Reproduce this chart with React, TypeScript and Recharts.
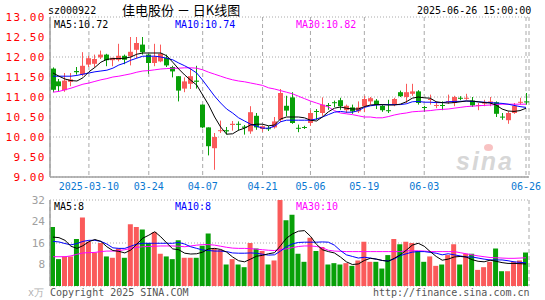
import { ComposedChart, Bar, Line, XAxis, YAxis, CartesianGrid, Cell } from 'recharts';

const dates = [
  '2025-02-28',
  '2025-03-03', '2025-03-04', '2025-03-05', '2025-03-06', '2025-03-07',
  '2025-03-10', '2025-03-11', '2025-03-12', '2025-03-13', '2025-03-14',
  '2025-03-17', '2025-03-18', '2025-03-19', '2025-03-20', '2025-03-21',
  '2025-03-24', '2025-03-25', '2025-03-26', '2025-03-27', '2025-03-28',
  '2025-03-31', '2025-04-01', '2025-04-02', '2025-04-03',
  '2025-04-07', '2025-04-08', '2025-04-09', '2025-04-10', '2025-04-11',
  '2025-04-14', '2025-04-15', '2025-04-16', '2025-04-17', '2025-04-18',
  '2025-04-21', '2025-04-22', '2025-04-23', '2025-04-24', '2025-04-25',
  '2025-04-28', '2025-04-29', '2025-04-30',
  '2025-05-06', '2025-05-07', '2025-05-08', '2025-05-09',
  '2025-05-12', '2025-05-13', '2025-05-14', '2025-05-15', '2025-05-16',
  '2025-05-19', '2025-05-20', '2025-05-21', '2025-05-22', '2025-05-23',
  '2025-05-26', '2025-05-27', '2025-05-28', '2025-05-29', '2025-05-30',
  '2025-06-03', '2025-06-04', '2025-06-05', '2025-06-06',
  '2025-06-09', '2025-06-10', '2025-06-11', '2025-06-12', '2025-06-13',
  '2025-06-16', '2025-06-17', '2025-06-18', '2025-06-19', '2025-06-20',
  '2025-06-23', '2025-06-24', '2025-06-25', '2025-06-26',
];

const tickDates = ['2025-03-10', '2025-03-24', '2025-04-07', '2025-04-21', '2025-05-06', '2025-05-19', '2025-06-03', '2025-06-26'];
const priceTicks = [9, 9.5, 10, 10.5, 11, 11.5, 12, 12.5, 13];
const volTicks = [8, 16, 24, 32];

const opens = [
  11.71, 11.39, 11.17, 11.38, 11.65, 11.56, 11.81, 11.83, 11.99, 12.06,
  11.92, 11.93, 12.03, 12.02, 12.18, 12.31, 12.06, 11.85, 11.89, 11.98,
  11.75, 11.52, 11.21, 11.33, 11.41, 10.81, 10.24, 9.72, 10.15, 10.17,
  10.3, 10.33, 10.26, 10.14, 10.53, 10.2, 10.22, 10.24, 10.43, 10.78,
  10.99, 10.23, 10.25, 10.35, 10.65, 10.6, 10.8, 10.87, 10.92, 10.67,
  10.74, 10.64, 10.77, 10.89, 10.91, 10.78, 10.67, 10.81, 11.12, 11.0,
  11.08, 11.14, 10.75, 10.93, 10.78, 10.8, 10.88, 10.85, 10.98, 10.96,
  10.91, 10.78, 10.84, 10.85, 10.87, 10.51, 10.42, 10.6, 10.86, 10.89,
];
const highs = [
  11.74, 11.45, 11.6, 11.6, 11.75, 12.12, 12.03, 12.06, 12.16, 12.08,
  11.98, 12.33, 12.06, 12.5, 12.5, 12.5, 12.08, 12.33, 12.31, 12.06,
  11.78, 11.52, 11.49, 11.72, 11.78, 10.81, 10.24, 10.1, 10.41, 10.25,
  10.4, 10.39, 10.3, 10.77, 10.6, 10.28, 10.28, 10.5, 11.2, 11.03,
  11.12, 10.31, 10.28, 10.67, 10.7, 10.99, 10.85, 10.91, 10.98, 10.81,
  10.81, 10.89, 11.03, 11.0, 10.95, 10.81, 10.93, 10.98, 11.16, 11.33,
  11.33, 11.17, 10.78, 11.06, 10.89, 10.89, 11.06, 11.03, 11.02, 11.08,
  11.0, 10.85, 10.93, 11.0, 10.89, 10.6, 10.64, 10.85, 10.98, 11.1,
];
const lows = [
  11.12, 11.13, 11.13, 11.27, 11.56, 11.52, 11.75, 11.75, 11.95, 11.77,
  11.77, 11.89, 11.82, 11.79, 11.97, 12.06, 11.58, 11.77, 11.87, 11.75,
  11.49, 10.89, 11.12, 11.2, 11.21, 10.22, 9.54, 9.18, 10.1, 10.06,
  10.16, 10.16, 10.06, 10.08, 10.18, 10.13, 10.15, 10.21, 10.37, 10.52,
  10.33, 10.12, 10.2, 10.28, 10.43, 10.53, 10.68, 10.75, 10.68, 10.6,
  10.58, 10.6, 10.62, 10.81, 10.7, 10.63, 10.6, 10.77, 11.0, 10.85,
  11.03, 10.81, 10.63, 10.81, 10.72, 10.67, 10.83, 10.77, 10.92, 10.93,
  10.75, 10.67, 10.77, 10.77, 10.5, 10.43, 10.33, 10.58, 10.81, 10.81,
];
const closes = [
  11.18, 11.27, 11.41, 11.44, 11.62, 11.78, 11.97, 11.95, 12.06, 11.92,
  11.98, 12.03, 11.93, 12.13, 12.35, 12.12, 11.85, 12.0, 12.08, 11.79,
  11.64, 11.16, 11.39, 11.52, 11.38, 10.24, 9.77, 10.0, 10.17, 10.14,
  10.33, 10.31, 10.23, 10.62, 10.24, 10.27, 10.21, 10.39, 11.1, 10.66,
  10.35, 10.22, 10.24, 10.6, 10.63, 10.81, 10.78, 10.85, 10.77, 10.78,
  10.64, 10.74, 10.95, 10.97, 10.81, 10.67, 10.66, 10.95, 11.02, 11.12,
  11.14, 10.85, 10.74, 10.95, 10.8, 10.78, 10.9, 11.0, 10.97, 10.98,
  10.79, 10.8, 10.86, 10.89, 10.58, 10.5, 10.6, 10.78, 10.88, 10.87,
];

// moving averages (history before the window is not shown)
const ma5 = [
  11.6, 11.52, 11.45, 11.41, 11.4, 11.48, 11.63, 11.74, 11.87, 11.94,
  11.96, 11.96, 11.97, 12.0, 12.07, 12.1, 12.1, 12.1, 12.1, 12.03,
  11.87, 11.7, 11.55, 11.42, 11.3, 11.05, 10.8, 10.5, 10.25, 10.07,
  10.08, 10.17, 10.22, 10.3, 10.32, 10.32, 10.28, 10.3, 10.45, 10.5,
  10.5, 10.5, 10.48, 10.42, 10.4, 10.5, 10.63, 10.72, 10.75, 10.72,
  10.7, 10.7, 10.76, 10.8, 10.81, 10.81, 10.8, 10.8, 10.82, 10.88,
  10.97, 11.0, 10.98, 10.97, 10.88, 10.86, 10.85, 10.86, 10.88, 10.9,
  10.9, 10.88, 10.86, 10.85, 10.8, 10.7, 10.65, 10.64, 10.66, 10.72,
];
const ma10 = [
  11.52, 11.52, 11.52, 11.52, 11.54, 11.57, 11.6, 11.63, 11.65, 11.67,
  11.72, 11.8, 11.85, 11.92, 11.97, 12.02, 12.02, 12.02, 12.0, 11.97,
  11.93, 11.85, 11.78, 11.7, 11.6, 11.42, 11.22, 11.02, 10.85, 10.7,
  10.6, 10.48, 10.4, 10.32, 10.27, 10.22, 10.22, 10.27, 10.38, 10.42,
  10.42, 10.42, 10.42, 10.42, 10.45, 10.5, 10.56, 10.62, 10.64, 10.62,
  10.62, 10.66, 10.74, 10.78, 10.8, 10.81, 10.81, 10.81, 10.81, 10.83,
  10.88, 10.89, 10.87, 10.87, 10.86, 10.86, 10.88, 10.89, 10.89, 10.9,
  10.89, 10.88, 10.87, 10.86, 10.85, 10.84, 10.82, 10.79, 10.76, 10.74,
];
const ma30 = [
  11.12, 11.14, 11.18, 11.22, 11.27, 11.32, 11.35, 11.39, 11.43, 11.46,
  11.5, 11.52, 11.55, 11.58, 11.62, 11.65, 11.66, 11.68, 11.7, 11.71,
  11.72, 11.72, 11.73, 11.73, 11.72, 11.68, 11.62, 11.57, 11.52, 11.47,
  11.43, 11.4, 11.38, 11.35, 11.32, 11.29, 11.23, 11.2, 11.16, 11.12,
  11.08, 11.02, 10.96, 10.9, 10.85, 10.8, 10.75, 10.66, 10.6, 10.58,
  10.56, 10.53, 10.5, 10.5, 10.48, 10.48, 10.51, 10.55, 10.58, 10.6,
  10.63, 10.64, 10.65, 10.66, 10.68, 10.69, 10.7, 10.72, 10.74, 10.76,
  10.77, 10.78, 10.79, 10.8, 10.81, 10.82, 10.82, 10.82, 10.82, 10.82,
];

// volume, 万手
const vols = [
  22, 10, 11, 11, 17.5, 25.5, 16.5, 12.5, 16, 11,
  10.5, 14, 10.5, 23, 22, 21, 16, 20, 12, 11,
  10, 17, 10.5, 10.5, 10.5, 15, 19.5, 14, 13.5, 8,
  10, 8, 7, 16, 14, 13, 8, 9.5, 32, 24.5,
  26.5, 12, 9, 18, 13, 14.5, 8, 8.5, 8, 8.5,
  7.5, 9.5, 16.5, 9, 9, 6.5, 11.5, 17.5, 15.5, 16.5,
  16, 13, 9, 11, 7.5, 8, 11.5, 15.5, 8, 12,
  12, 6, 7, 9, 14, 5.5, 5.5, 9, 9.5, 12.5,
];
const vma5 = [
  18.2, 18.0, 17.0, 14.8, 14.0, 15.0, 16.5, 17.3, 16.6, 14.6,
  13.2, 12.9, 12.3, 13.4, 15.6, 17.8, 18.9, 20.2, 18.3, 16.0,
  13.8, 13.5, 12.2, 11.9, 12.0, 12.6, 13.8, 14.0, 13.6, 12.6,
  10.8, 9.4, 9.0, 10.0, 11.1, 11.4, 12.0, 12.4, 15.0, 17.8,
  19.4, 20.4, 20.6, 18.5, 15.5, 13.5, 12.8, 12.3, 10.8, 9.0,
  8.0, 8.2, 9.5, 10.3, 10.0, 9.5, 9.2, 10.3, 11.6, 13.3,
  15.2, 15.9, 14.8, 12.8, 11.0, 9.6, 10.0, 10.8, 11.0, 10.8,
  9.8, 9.2, 9.0, 9.6, 9.2, 8.7, 8.4, 8.4, 8.3, 8.2,
];
const vma10 = [
  16.6, 16.4, 15.8, 15.3, 15.8, 16.6, 17.0, 17.0, 16.6, 15.6,
  14.2, 14.0, 14.0, 14.8, 15.6, 15.9, 15.9, 15.9, 15.9, 15.9,
  15.9, 16.2, 15.6, 14.6, 14.0, 13.4, 13.2, 13.0, 13.0, 12.8,
  12.3, 12.2, 12.2, 12.3, 12.2, 11.8, 11.5, 11.6, 13.0, 14.6,
  15.7, 16.2, 16.3, 16.3, 16.3, 16.4, 16.3, 15.2, 13.2, 11.6,
  11.0, 10.4, 10.7, 10.4, 10.0, 9.5, 9.3, 10.1, 11.3, 12.0,
  12.6, 12.8, 12.8, 12.5, 12.2, 11.6, 12.0, 11.6, 11.2, 10.8,
  10.8, 10.4, 10.0, 9.7, 9.7, 9.7, 9.4, 9.0, 8.8, 8.6,
];
const vma30 = [
  10.9, 10.9, 10.9, 11.2, 11.8, 12.3, 12.4, 12.5, 12.8, 13.0,
  13.0, 13.2, 13.5, 14.0, 14.4, 14.6, 14.7, 14.8, 14.9, 14.9,
  14.9, 14.8, 14.6, 14.9, 15.2, 15.4, 15.4, 15.2, 14.8, 14.4,
  14.1, 14.0, 14.0, 13.9, 13.7, 13.5, 13.3, 13.2, 13.6, 13.8,
  14.3, 14.7, 14.9, 14.9, 14.7, 14.2, 13.3, 13.0, 12.9, 12.8,
  12.8, 12.8, 12.8, 12.8, 12.8, 12.8, 12.8, 12.8, 12.8, 13.1,
  13.1, 13.1, 13.0, 12.8, 12.8, 12.8, 12.8, 12.8, 12.4, 12.0,
  11.6, 11.2, 10.9, 10.6, 10.5, 10.4, 10.3, 10.3, 10.4, 10.5,
];

const RED = '#fa5a5a';
const GREEN = '#08a008';
const BORDER = '#a0a0a0';
const GRID = '#aaaaaa';
const MONO = '"DejaVu Sans Mono", monospace';

const priceData = dates.map((date, i) => ({
  date,
  open: opens[i],
  high: highs[i],
  low: lows[i],
  close: closes[i],
  ma5: ma5[i],
  ma10: ma10[i],
  ma30: ma30[i],
}));

const volData = dates.map((date, i) => ({
  date,
  vol: vols[i],
  up: closes[i] >= opens[i],
  ma5: vma5[i],
  ma10: vma10[i],
  ma30: vma30[i],
}));

function Candle(props: any) {
  const { x, y, width, height, payload } = props;
  const { open, close, high, low } = payload;
  const color = close >= open ? RED : GREEN;
  const top = Math.min(y, y + height);
  const h = Math.abs(height);
  const ppu = h / (high - low);
  const bodyTop = top + (high - Math.max(open, close)) * ppu;
  const bodyH = Math.max(1, Math.abs(open - close) * ppu);
  const cx = Math.round(x + width / 2) + 0.5;
  return (
    <g>
      <line x1={cx} x2={cx} y1={top} y2={top + h} stroke={color} strokeWidth={1} />
      <rect x={cx - 2.5} y={bodyTop} width={5} height={bodyH} fill={color} />
    </g>
  );
}

const txt = (left: number, top: number, color: string, s: string, extra: any = {}) => (
  <div
    style={{
      position: 'absolute',
      left,
      top,
      color,
      fontFamily: MONO,
      fontSize: 10,
      lineHeight: '12px',
      whiteSpace: 'nowrap',
      ...extra,
    }}
  >
    {s}
  </div>
);

export default function App() {
  return (
    <div style={{ position: 'absolute', left: 0, top: 0, width: 545, height: 300, background: '#fff', overflow: 'hidden' }}>
      <ComposedChart width={545} height={195} data={priceData} margin={{ top: 17, right: 16, bottom: 0, left: 0 }}>
        <CartesianGrid vertical={false} stroke={GRID} strokeDasharray="1 2" />
        <CartesianGrid horizontal={false} stroke={GRID} strokeDasharray="4 3" />
        <XAxis
          dataKey="date"
          ticks={tickDates}
          interval={0}
          height={18}
          tickSize={0}
          tickMargin={6}
          tickLine={false}
          axisLine={{ stroke: BORDER, strokeWidth: 1.5 }}
          tick={{ fill: '#0a78d2', fontSize: 10, fontFamily: MONO }}
          tickFormatter={(v: string) => (v === '2025-03-10' ? v : v.slice(5))}
        />
        <XAxis xAxisId="top" dataKey="date" orientation="top" height={0} tick={false} tickLine={false} axisLine={{ stroke: BORDER }} />
        <YAxis
          domain={[9, 13]}
          ticks={priceTicks}
          allowDataOverflow
          width={50}
          tickSize={0}
          tickMargin={4}
          tickLine={false}
          axisLine={{ stroke: BORDER, strokeWidth: 1.5 }}
          tick={{ fill: '#ff0000', fontSize: 11, fontFamily: MONO, letterSpacing: 1.5 }}
          tickFormatter={(v: number) => v.toFixed(2)}
        />
        <YAxis yAxisId="r" orientation="right" width={0} domain={[0, 1]} tick={false} tickLine={false} axisLine={{ stroke: BORDER, strokeWidth: 1.5 }} />
        <Bar dataKey={(d: any) => [d.low, d.high]} barSize={5} shape={(p: any) => <Candle {...p} />} isAnimationActive={false} />
        <Line type="linear" dataKey="ma30" stroke="#ff00ff" strokeWidth={1} dot={false} isAnimationActive={false} />
        <Line type="linear" dataKey="ma10" stroke="#0000ff" strokeWidth={1} dot={false} isAnimationActive={false} />
        <Line type="linear" dataKey="ma5" stroke="#000000" strokeWidth={1} dot={false} isAnimationActive={false} />
      </ComposedChart>

      <div style={{ position: 'absolute', left: 0, top: 190 }}>
        <ComposedChart width={545} height={110} data={volData} margin={{ top: 10, right: 16, bottom: 14, left: 0 }}>
          <CartesianGrid vertical={false} stroke={GRID} strokeDasharray="1 2" />
          <CartesianGrid horizontal={false} stroke={GRID} strokeDasharray="4 3" />
          <XAxis dataKey="date" ticks={tickDates} interval={0} height={0} tick={false} tickLine={false} axisLine={{ stroke: BORDER, strokeWidth: 1.5 }} />
          <XAxis xAxisId="top" dataKey="date" orientation="top" height={0} tick={false} tickLine={false} axisLine={{ stroke: BORDER }} />
          <YAxis
            domain={[0, 32]}
            ticks={volTicks}
            allowDataOverflow
            width={50}
            tickSize={0}
            tickMargin={5}
            tickLine={false}
            axisLine={{ stroke: BORDER, strokeWidth: 1.5 }}
            tick={{ fill: '#a0a0a0', fontSize: 11, fontFamily: MONO }}
          />
          <YAxis yAxisId="r" orientation="right" width={0} domain={[0, 1]} tick={false} tickLine={false} axisLine={{ stroke: BORDER, strokeWidth: 1.5 }} />
          <Bar dataKey="vol" barSize={5} isAnimationActive={false}>
            {volData.map((d, i) => (
              <Cell key={i} fill={d.up ? RED : GREEN} />
            ))}
          </Bar>
          <Line type="linear" dataKey="ma30" stroke="#ff00ff" strokeWidth={1} dot={false} isAnimationActive={false} />
          <Line type="linear" dataKey="ma10" stroke="#0000ff" strokeWidth={1} dot={false} isAnimationActive={false} />
          <Line type="linear" dataKey="ma5" stroke="#000000" strokeWidth={1} dot={false} isAnimationActive={false} />
        </ComposedChart>
      </div>

      {txt(48, 5, '#000', 'sz000922')}
      {txt(122, 2, '#000', '佳电股份 － 日K线图', { fontFamily: '"Noto Sans CJK SC", sans-serif', fontSize: 13, lineHeight: '16px' })}
      {txt(417, 5, '#000', '2025-06-26 15:00:00')}

      {txt(54, 19, '#000', 'MA5:10.72')}
      {txt(175, 19, '#0000ff', 'MA10:10.74')}
      {txt(296, 19, '#ff00ff', 'MA30:10.82')}

      {txt(54, 201, '#000', 'MA5:8')}
      {txt(175, 201, '#0000ff', 'MA10:8')}
      {txt(296, 201, '#ff00ff', 'MA30:10')}

      {txt(28, 287, '#b0b0b0', 'x万')}
      {txt(50, 287, '#555', 'Copyright 2025 SINA.COM')}
      {txt(373, 287, '#555', 'http://finance.sina.com.cn')}

      {txt(456, 148, 'rgba(175,175,175,0.5)', 'sina', { fontFamily: 'Liberation Sans, sans-serif', fontSize: 25, fontWeight: 700, fontStyle: 'italic', lineHeight: '26px', letterSpacing: 2 })}
      <div style={{ position: 'absolute', left: 484, top: 144, width: 9, height: 7, borderRadius: '50%', background: 'rgba(240,120,120,0.45)' }} />
    </div>
  );
}
